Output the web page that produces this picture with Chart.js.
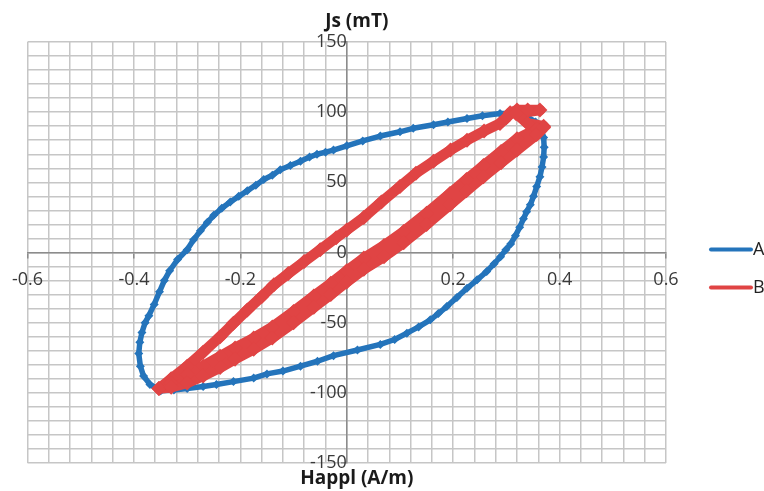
<!DOCTYPE html>
<html>
<head>
<meta charset="utf-8">
<script src="https://cdn.jsdelivr.net/npm/chart.js@4.4.1/dist/chart.umd.min.js"></script>
<style>
  html, body { margin: 0; padding: 0; background: #ffffff; overflow: hidden; }
  #wrap { width: 764px; height: 491px; }
</style>
</head>
<body>
<div id="wrap"><canvas id="loop" width="764" height="491"></canvas></div>
<script>
// Series names and colours
const seriesNames = ['A', 'B'];
const seriesColors = ['#2474bb', '#e04444'];

// Series A: applied field (A/m) and polarisation Js (mT), one full loop
const happlA = [-0.350, -0.370, -0.382, -0.388, -0.391, -0.389, -0.385, -0.379, -0.372, -0.362,
  -0.352, -0.343, -0.333, -0.318, -0.300, -0.288, -0.275, -0.262, -0.250, -0.235,
  -0.219, -0.203, -0.187, -0.171, -0.156, -0.140, -0.125, -0.106, -0.087, -0.070,
  -0.056, -0.040, -0.025, 0.000, 0.030, 0.063, 0.100, 0.125, 0.163, 0.190,
  0.226, 0.255, 0.288, 0.315, 0.338, 0.355, 0.365, 0.370, 0.371, 0.370,
  0.367, 0.363, 0.357, 0.351, 0.345, 0.338, 0.332, 0.325, 0.317, 0.308,
  0.299, 0.289, 0.277, 0.263, 0.245, 0.226, 0.207, 0.188, 0.172, 0.157,
  0.135, 0.113, 0.090, 0.063, 0.020, -0.025, -0.055, -0.087, -0.120, -0.150,
  -0.175, -0.213, -0.245, -0.270, -0.300, -0.325, -0.350];
const jsA = [-98.5, -94, -88, -81, -72, -64, -57, -50, -45, -37,
  -28, -20, -13, -5, 2, 9, 15.5, 21.5, 26.5, 31.5,
  36, 40, 44, 48, 52, 55, 59, 62, 65, 68,
  70, 71.5, 73, 76, 79.5, 83, 86, 88.5, 91, 93,
  95.5, 97.5, 99, 99, 97, 93, 88, 82, 75, 68,
  61, 54, 47, 40, 34, 29, 24, 18, 12, 6,
  2, -3, -8, -13.5, -19.5, -25.5, -32, -38.5, -43.5, -48,
  -53, -57.5, -62, -65.5, -69.5, -73.5, -77.5, -81, -84.5, -86.5,
  -89.5, -92, -94, -95.5, -97, -98, -98.5];

// Series B: rising branch, top turn, then two passes of the falling branch
const happlB = [-0.353, -0.330, -0.300, -0.270, -0.238, -0.213, -0.187, -0.160, -0.137, -0.110,
  -0.080, -0.050, -0.020, 0.000, 0.032, 0.065, 0.100, 0.130, 0.163, 0.195,
  0.226, 0.258, 0.288, 0.300, 0.307, 0.320, 0.340, 0.363, 0.318, 0.340,
  0.370,
  0.357, 0.320, 0.290, 0.257, 0.225, 0.194, 0.150, 0.107, 0.070, 0.032,
  0.000, -0.030, -0.062, -0.100, -0.140, -0.175, -0.210, -0.238, -0.270, -0.300,
  -0.330, -0.353,
  -0.330, -0.300, -0.270, -0.238, -0.210, -0.175, -0.140, -0.100, -0.062, -0.030,
  0.000, 0.032, 0.070, 0.107, 0.150, 0.194, 0.225, 0.257, 0.290, 0.320,
  0.357, 0.370];
const jsB = [-97, -90, -81, -71, -60, -50.5, -41, -31.5, -23, -15,
  -6.5, 2, 10.5, 16, 25, 36, 47, 56.5, 65, 73,
  80, 86.5, 92, 96, 99.5, 101.5, 101.5, 101.5, 99, 92,
  90,
  88, 81, 72, 62, 52, 42, 28, 15, 5, -4,
  -13, -22, -31, -42, -53, -61, -68, -74, -81, -87,
  -93, -97,
  -96, -93, -88, -82, -76, -69, -61, -50, -39, -30,
  -21, -12, -3, 7, 20, 34, 44, 54, 64, 73,
  84, 89];

// Axis ranges, grid steps and labelled ticks
const xRange = [-0.6, 0.6];
const yRange = [-150, 150];
const xGridStep = 0.04;
const yGridStep = 10;
const xTickLabels = ['-0.6', '-0.4', '-0.2', '0', '0.2', '0.4', '0.6'];
const yTickLabels = ['-150', '-100', '-50', '0', '50', '100', '150'];
const xTitle = 'Happl (A/m)';
const yTitle = 'Js (mT)';

const toPoints = (xs, ys) => xs.map((x, i) => ({ x: x, y: ys[i] }));
const labelFor = (list, v) => list.find(l => Math.abs(Number(l) - v) < 1e-7) || '';

const axisGray = '#8c8c8c';
const gridGray = '#c6c6c6';
const tickFont = { family: 'Open Sans', size: 18 };

// Axis titles and the legend at the right edge
const decorations = {
  id: 'decorations',
  afterDraw(chart) {
    const { ctx } = chart;
    const x = chart.scales.x, y = chart.scales.y;
    ctx.save();
    ctx.fillStyle = '#1a1a1a';
    ctx.font = 'bold 19px "Open Sans"';
    ctx.textAlign = 'center';
    ctx.textBaseline = 'middle';
    const cx = x.getPixelForValue(0) + 10;
    ctx.fillText(yTitle, cx, y.top - 20);
    ctx.fillText(xTitle, cx, y.bottom + 16);

    ctx.font = '18px "Open Sans"';
    ctx.textAlign = 'left';
    const ly0 = y.getPixelForValue(0) - 3;
    chart.data.datasets.forEach((ds, i) => {
      const ly = ly0 + i * 38;
      ctx.strokeStyle = ds.borderColor;
      ctx.lineWidth = 4;
      ctx.lineCap = 'round';
      ctx.beginPath();
      ctx.moveTo(711, ly);
      ctx.lineTo(751, ly);
      ctx.stroke();
      ctx.fillStyle = '#222222';
      ctx.fillText(ds.label, 753, ly);
    });
    ctx.restore();
  }
};

new Chart(document.getElementById('loop'), {
  type: 'scatter',
  data: {
    datasets: [
      {
        label: seriesNames[0],
        data: toPoints(happlA, jsA),
        showLine: true,
        borderColor: seriesColors[0],
        backgroundColor: seriesColors[0],
        borderWidth: 5.5,
        borderJoinStyle: 'round',
        pointStyle: 'rectRot',
        pointRadius: 4.5,
        pointBorderWidth: 0,
        tension: 0,
        order: 1
      },
      {
        label: seriesNames[1],
        data: toPoints(happlB, jsB),
        showLine: true,
        borderColor: seriesColors[1],
        backgroundColor: seriesColors[1],
        borderWidth: 10.5,
        borderJoinStyle: 'round',
        pointStyle: 'rectRot',
        pointRadius: 7.5,
        pointBorderWidth: 0,
        tension: 0,
        order: 0
      }
    ]
  },
  options: {
    responsive: false,
    animation: false,
    events: [],
    layout: { padding: { left: 27, top: 42, right: 98, bottom: 28 } },
    plugins: { legend: { display: false }, tooltip: { enabled: false } },
    scales: {
      x: {
        type: 'linear',
        position: { y: 0 },
        min: xRange[0],
        max: xRange[1],
        ticks: {
          stepSize: xGridStep,
          autoSkip: false,
          maxRotation: 0,
          font: tickFont,
          color: '#3a3a3a',
          padding: 12,
          callback: (v) => labelFor(xTickLabels, v)
        },
        grid: {
          color: gridGray,
          lineWidth: 1.5,
          tickLength: 5,
          tickColor: (c) => (c.tick && labelFor(xTickLabels, c.tick.value)) ? axisGray : 'rgba(0,0,0,0)'
        },
        border: { color: axisGray, width: 1.5 }
      },
      y: {
        type: 'linear',
        position: { x: 0 },
        min: yRange[0],
        max: yRange[1],
        ticks: {
          stepSize: yGridStep,
          autoSkip: false,
          font: tickFont,
          color: '#3a3a3a',
          padding: 12,
          callback: (v) => labelFor(yTickLabels, v)
        },
        grid: {
          color: gridGray,
          lineWidth: 1.5,
          tickLength: 5,
          tickColor: (c) => (c.tick && labelFor(yTickLabels, c.tick.value)) ? axisGray : 'rgba(0,0,0,0)'
        },
        border: { color: axisGray, width: 1.5 }
      }
    }
  },
  plugins: [decorations]
});
</script>
</body>
</html>
